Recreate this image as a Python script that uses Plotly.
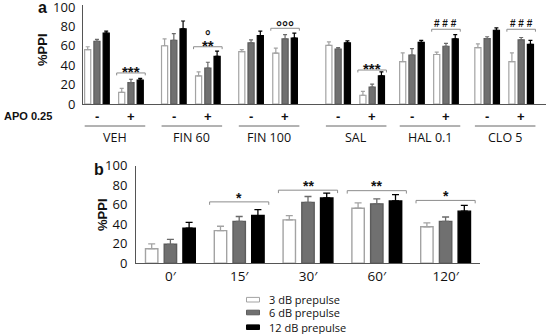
import plotly.graph_objects as go

# ---------------- data ----------------
groups = ["VEH", "FIN 60", "FIN 100", "SAL", "HAL 0.1", "CLO 5"]
apo_levels = ["-", "+"]

# panel a: order VEH-, VEH+, FIN60-, FIN60+, ...
a_3db = [56, 12, 60, 29, 54, 52.5, 60.5, 9, 43.6, 51, 58, 43.6]
a_3db_err = [3, 4, 7, 4, 2, 5, 3.5, 4, 9, 2.5, 4, 9]
a_6db = [64.5, 22, 65.5, 37, 63, 67, 56.5, 17.5, 50.5, 59.5, 67.3, 66]
a_6db_err = [2, 3.5, 7, 6, 3, 4.5, 1.5, 3, 6.5, 3, 2, 2.5]
a_12db = [73, 24.5, 77.5, 49, 70.5, 68, 63, 29, 63.5, 67, 76, 61.5]
a_12db_err = [2, 2, 8, 5.5, 4.5, 5, 2, 4, 2, 4.5, 2.5, 4]
a_sig = ["***", "**", "°°°", "***", "# # #", "# # #"]
a_sig2 = ["", "°", "", "", "", ""]
a_bracket = [32, 59, 78, 35, 77, 77]

# panel b
times = ["0′", "15′", "30′", "60′", "120′"]
b_3db = [15, 33.5, 44.5, 56.5, 37.5]
b_3db_err = [5, 4.5, 4.5, 5.5, 4]
b_6db = [19.5, 43, 62.5, 61, 43]
b_6db_err = [5, 5, 6, 5, 4.5]
b_12db = [36, 49, 67, 64, 53.5]
b_12db_err = [6, 6, 5, 6.5, 6]
b_sig = ["", "*", "**", "**", "*"]
b_bracket = [None, 63, 75, 74.5, 64.5]

legend_names = ["3 dB prepulse", "6 dB prepulse", "12 dB prepulse"]
yticks = [0, 20, 40, 60, 80, 100]

# ---------------- layout helpers ----------------
W, H = 548, 334
def PX(p): return p / W
def PY(p): return 1 - p / H

group_pos = [0, 2.26, 4.53, 7.09, 9.26, 11.47]
sub_pos = [gp + s for gp in group_pos for s in (0, 1.0)]
bar_off = [-0.272, 0, 0.272]

styles = [
    dict(fill="#ffffff", line="#a3a3a3", err="#a3a3a3"),
    dict(fill="#707070", line="#5c5c5c", err="#6a6a6a"),
    dict(fill="#000000", line="#000000", err="#000000"),
]

a_vals = [a_3db, a_6db, a_12db]
a_errs = [a_3db_err, a_6db_err, a_12db_err]
b_vals = [b_3db, b_6db, b_12db]
b_errs = [b_3db_err, b_6db_err, b_12db_err]

fig = go.Figure()
for k in range(3):
    st = styles[k]
    fig.add_trace(go.Bar(
        x=[p + bar_off[k] for p in sub_pos], y=a_vals[k], width=0.18,
        marker=dict(color=st["fill"], line=dict(color=st["line"], width=1.2)),
        error_y=dict(type="data", array=a_errs[k], arrayminus=[0] * len(a_errs[k]),
                     symmetric=False, color=st["err"], thickness=1.2, width=2),
        name=legend_names[k], showlegend=False, xaxis="x", yaxis="y"))
    fig.add_trace(go.Bar(
        x=[i + bar_off[k] for i in range(len(times))], y=b_vals[k], width=0.18,
        marker=dict(color=st["fill"], line=dict(color=st["line"], width=1.4)),
        error_y=dict(type="data", array=b_errs[k], arrayminus=[0] * len(b_errs[k]),
                     symmetric=False, color=st["err"], thickness=1.3, width=3.5),
        name=legend_names[k], showlegend=False, xaxis="x2", yaxis="y2"))

shapes = []
ann = []
bracket_col = "#8c8c8c"

# panel a brackets & significance
for g, lvl in enumerate(a_bracket):
    xc = sub_pos[2 * g + 1]
    x0, x1 = xc - 0.42, xc + 0.42
    shapes.append(dict(type="path", xref="x", yref="y",
                       path=f"M {x0},{lvl-2.5} L {x0},{lvl} L {x1},{lvl} L {x1},{lvl-2.5}",
                       line=dict(color=bracket_col, width=1)))
    txt = a_sig[g]
    is_hash = "#" in txt
    ann.append(dict(x=xc, y=lvl + 5.5, xref="x", yref="y", text=txt, showarrow=False,
                    yanchor="middle", yshift=0 if is_hash else -4,
                    font=dict(family="Liberation Sans", size=10 if is_hash else 15,
                              color="#111", weight="bold")))
    if a_sig2[g]:
        ann.append(dict(x=xc, y=lvl + 15, xref="x", yref="y", text=a_sig2[g],
                        showarrow=False, yanchor="middle", yshift=-4,
                        font=dict(family="Liberation Sans", size=14, color="#111",
                                  weight="bold")))

# panel b brackets & significance
for i, lvl in enumerate(b_bracket):
    if lvl is None:
        continue
    x0, x1 = i - 0.43, i + 0.43
    shapes.append(dict(type="path", xref="x2", yref="y2",
                       path=f"M {x0},{lvl-3} L {x0},{lvl} L {x1},{lvl} L {x1},{lvl-3}",
                       line=dict(color=bracket_col, width=1)))
    ann.append(dict(x=i, y=lvl + 8.5, xref="x2", yref="y2", text=b_sig[i],
                    showarrow=False, yanchor="middle", yshift=-4,
                    font=dict(family="Liberation Sans", size=14, color="#111",
                              weight="bold")))

# APO +/- row, underline, group names
for g, name in enumerate(groups):
    for s in range(2):
        ann.append(dict(x=sub_pos[2 * g + s], y=PY(116), xref="x", yref="paper",
                        text=apo_levels[s], showarrow=False, yanchor="middle",
                        font=dict(family="Liberation Sans", size=13, color="#111",
                                  weight="bold")))
    x0 = sub_pos[2 * g] - 0.36
    x1 = sub_pos[2 * g + 1] + 0.42
    shapes.append(dict(type="line", xref="x", yref="paper", x0=x0, x1=x1,
                       y0=PY(126), y1=PY(126), line=dict(color="#666", width=1)))
    ann.append(dict(x=(x0 + x1) / 2, y=PY(137.5), xref="x", yref="paper", text=name,
                    showarrow=False, yanchor="middle",
                    font=dict(family="Open Sans", size=12.5, color="#111")))

ann.append(dict(x=PX(2), y=PY(116), xref="paper", yref="paper", text="APO 0.25",
                showarrow=False, xanchor="left", yanchor="middle",
                font=dict(family="Liberation Sans", size=11, color="#111", weight="bold")))
ann.append(dict(x=PX(42), y=PY(8), xref="paper", yref="paper", text="a",
                showarrow=False, xanchor="center", yanchor="middle",
                font=dict(family="Liberation Sans", size=16, color="#111", weight="bold")))
ann.append(dict(x=PX(99), y=PY(169), xref="paper", yref="paper", text="b",
                showarrow=False, xanchor="center", yanchor="middle",
                font=dict(family="Liberation Sans", size=16, color="#111", weight="bold")))
for (cx, cy) in [(43, 50), (102, 215)]:
    ann.append(dict(x=PX(cx), y=PY(cy), xref="paper", yref="paper", text="%PPI",
                    showarrow=False, textangle=-90, xanchor="center", yanchor="middle",
                    font=dict(family="Liberation Sans", size=13, color="#111",
                              weight="bold")))

# legend (drawn manually to match swatch shape)
leg_rows = [299.7, 312.5, 327.2]
for k, name in enumerate(legend_names):
    st = styles[k]
    yc = leg_rows[k]
    shapes.append(dict(type="rect", xref="paper", yref="paper",
                       x0=PX(246.5), x1=PX(259.5), y0=PY(yc + 2.3), y1=PY(yc - 2.3),
                       fillcolor=st["fill"], line=dict(color=st["line"], width=1)))
    ann.append(dict(x=PX(267), y=PY(yc), xref="paper", yref="paper", text=name,
                    showarrow=False, xanchor="left", yanchor="middle",
                    font=dict(family="Open Sans", size=11, color="#111")))

axis_common = dict(showgrid=False, zeroline=False, showline=True, linecolor="#555",
                   linewidth=1, automargin=False)

fig.update_layout(
    width=W, height=H, margin=dict(l=0, r=0, t=0, b=0),
    paper_bgcolor="white", plot_bgcolor="white",
    barmode="overlay", showlegend=False,
    xaxis=dict(domain=[PX(83), PX(546)], range=[-0.41, 13.2], showticklabels=False,
               ticks="", anchor="y", **axis_common),
    yaxis=dict(domain=[PY(104), PY(5)], range=[0, 102], tickvals=yticks,
               ticks="", ticklabelstandoff=4, anchor="x", ticklabeloverflow="allow",
               tickfont=dict(family="Open Sans", size=13, color="#111"), **axis_common),
    xaxis2=dict(domain=[PX(136), PX(480)], range=[-0.5, 4.5],
                tickvals=list(range(len(times))), ticktext=times, ticks="",
                anchor="y2", tickfont=dict(family="Open Sans", size=13.5, color="#111"),
                **axis_common),
    yaxis2=dict(domain=[PY(263.3), PY(165.8)], range=[0, 100], tickvals=yticks,
                ticks="", ticklabelstandoff=5, anchor="x2", ticklabeloverflow="allow",
                tickfont=dict(family="Open Sans", size=13, color="#111"), **axis_common),
    shapes=shapes, annotations=ann,
)

fig.write_html("out.html", config={"displayModeBar": False},
               post_script="document.body.style.margin='0';document.body.style.overflow='hidden';")
